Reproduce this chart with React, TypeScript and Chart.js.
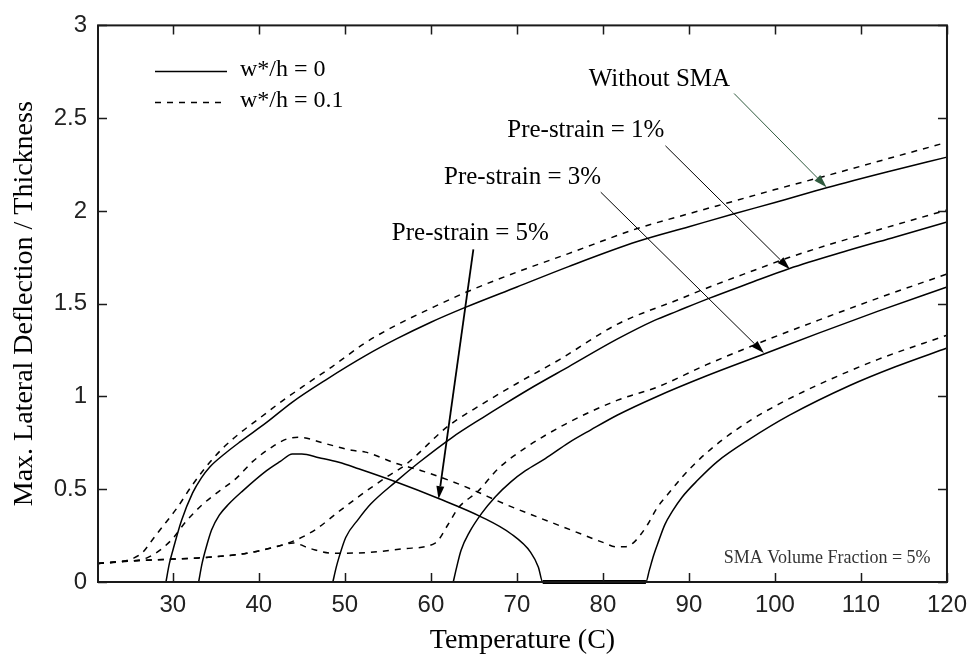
import React, { useEffect, useRef } from 'react';
import { Chart, registerables } from 'chart.js';

Chart.register(...registerables);

// ---------- axis ticks ----------
const xTicks = [30, 40, 50, 60, 70, 80, 90, 100, 110, 120];
const yTicks = [0, 0.5, 1, 1.5, 2, 2.5, 3];

// ---------- Without SMA ----------
const noSmaSolidT = [29.2, 29.6, 30.0, 31.0, 32.3, 33.3, 34.3, 36.0, 37.8, 40.9, 43.9, 47.8, 52.4, 56, 60, 64, 70, 76, 84, 90, 95.25, 100, 106, 113, 120];
const noSmaSolidW = [0, 0.10, 0.17, 0.33, 0.48, 0.56, 0.62, 0.69, 0.755, 0.86, 0.97, 1.09, 1.22, 1.31, 1.40, 1.48, 1.59, 1.70, 1.835, 1.915, 1.985, 2.045, 2.125, 2.21, 2.29];
const noSmaDashT = [21.3, 24, 25.5, 26.5, 27.5, 28.5, 30.5, 32.3, 34.3, 36, 38, 40, 42.7, 45.8, 48.5, 52.4, 56, 60, 64, 70, 76, 84, 90, 95, 100, 106, 113, 120];
const noSmaDashW = [0.10, 0.11, 0.13, 0.16, 0.22, 0.28, 0.40, 0.525, 0.645, 0.73, 0.81, 0.88, 0.975, 1.075, 1.16, 1.29, 1.385, 1.475, 1.56, 1.67, 1.77, 1.905, 1.985, 2.05, 2.115, 2.19, 2.28, 2.37];

// ---------- Pre-strain = 1% ----------
const pre1SolidT = [48.6, 49.0, 49.3, 50.1, 51.6, 53.0, 55.9, 58.5, 62.5, 66.0, 68.6, 72.0, 76, 81.7, 86, 88.65, 92.4, 97, 101.7, 108, 114, 120];
const pre1SolidW = [0, 0.08, 0.13, 0.24, 0.34, 0.42, 0.54, 0.64, 0.78, 0.885, 0.96, 1.055, 1.16, 1.31, 1.41, 1.46, 1.53, 1.61, 1.69, 1.78, 1.86, 1.94];
const pre1DashT = [21.3, 24, 28, 33, 38.6, 42, 44, 46.5, 49.3, 51.6, 53.1, 55, 57, 62, 66, 70, 75, 81.7, 88.65, 92.4, 97, 101.7, 110, 120];
const pre1DashW = [0.10, 0.11, 0.12, 0.13, 0.155, 0.19, 0.22, 0.28, 0.38, 0.46, 0.51, 0.57, 0.63, 0.84, 0.96, 1.07, 1.20, 1.39, 1.52, 1.59, 1.67, 1.75, 1.87, 2.005];

// ---------- Pre-strain = 3% ----------
const pre3SolidT = [62.6, 63.0, 63.5, 64.5, 65.9, 67.5, 69.3, 71, 73.3, 76, 78.6, 81.7, 86.3, 92, 98.8, 105, 112, 120];
const pre3SolidW = [0, 0.08, 0.17, 0.27, 0.37, 0.46, 0.54, 0.60, 0.665, 0.75, 0.82, 0.90, 1.00, 1.11, 1.23, 1.34, 1.46, 1.59];
const pre3DashT = [21.3, 24, 28, 33, 38.6, 42, 44, 46, 48.5, 53, 57, 60.5, 62, 63.2, 65.5, 67.8, 70.9, 75.6, 81.7, 86.3, 92, 98.8, 105, 112, 120];
const pre3DashW = [0.10, 0.11, 0.12, 0.13, 0.155, 0.19, 0.21, 0.18, 0.155, 0.16, 0.18, 0.21, 0.31, 0.40, 0.49, 0.61, 0.72, 0.85, 0.98, 1.05, 1.17, 1.30, 1.41, 1.53, 1.66];

// ---------- Pre-strain = 5% ----------
const pre5SolidT = [33.0, 33.4, 33.9, 34.5, 35.4, 36.5, 38.1, 40.9, 42.5, 43.9, 45, 47, 49.3, 51.6, 55.9, 60.9, 65.9, 69.3, 71.6, 72.5, 73.0, 85.0, 85.4, 85.9, 86.5, 87.2, 88.1, 89.2, 91.0, 93.3, 97.1, 101.7, 108.7, 114, 120];
const pre5SolidW = [0, 0.10, 0.19, 0.28, 0.36, 0.42, 0.49, 0.60, 0.65, 0.69, 0.69, 0.67, 0.645, 0.61, 0.54, 0.45, 0.35, 0.26, 0.16, 0.08, 0, 0, 0.064, 0.144, 0.223, 0.309, 0.383, 0.457, 0.548, 0.649, 0.771, 0.899, 1.059, 1.16, 1.261];
const pre5DashT = [21.3, 24, 27, 29.7, 31.6, 33.5, 35.4, 37.4, 39.3, 41.6, 43.2, 44.7, 47.8, 50.8, 52.4, 55.9, 58.9, 62, 64.7, 68.6, 72.4, 76.3, 80.2, 81.5, 82.6, 83.5, 84.3, 85.2, 86.3, 87.5, 89.3, 91.3, 94, 97.1, 100.5, 104.9, 112, 120];
const pre5DashW = [0.10, 0.11, 0.13, 0.22, 0.33, 0.42, 0.49, 0.56, 0.65, 0.73, 0.77, 0.78, 0.745, 0.71, 0.70, 0.64, 0.60, 0.55, 0.50, 0.42, 0.35, 0.28, 0.21, 0.19, 0.19, 0.21, 0.25, 0.31, 0.40, 0.47, 0.57, 0.665, 0.77, 0.87, 0.96, 1.06, 1.20, 1.33];

// ---------- annotations (data units) ----------
const noteTexts = ['Without SMA', 'Pre-strain = 1%', 'Pre-strain = 3%', 'Pre-strain = 5%'];
const noteX = [86.57, 78.01, 70.66, 64.59];
const noteY = [2.707, 2.436, 2.178, 1.880];
const arrowFromX = [95.25, 87.27, 79.75, 64.94];
const arrowFromY = [2.633, 2.351, 2.101, 1.793];
const arrowToX = [106.0, 101.73, 98.72, 60.89];
const arrowToY = [2.128, 1.686, 1.234, 0.447];
const arrowColors = ['#2f5a3e', '#000000', '#000000', '#000000'];
const arrowWidths = [1, 1, 1, 1.8];

const footnoteText = 'SMA Volume Fraction = 5%';
const footnoteX = 106.07;
const footnoteY = 0.128;

const legendLabels = ['w*/h = 0', 'w*/h = 0.1'];

const SERIF = "'Liberation Serif', 'Times New Roman', serif";
const SANS = "'Liberation Sans', Arial, sans-serif";
const DASH = [6, 6];

function series(label: string, xs: number[], ys: number[], dashed: boolean) {
  return {
    label,
    data: xs.map((x, i) => ({ x, y: ys[i] })),
    borderColor: '#000',
    backgroundColor: '#000',
    borderWidth: 1.5,
    borderDash: dashed ? DASH : [],
    pointRadius: 0,
    fill: false,
    cubicInterpolationMode: 'monotone' as const,
    clip: false as const,
    segment: {
      borderWidth: (c: any) => (!dashed && c.p0.parsed.y === 0 && c.p1.parsed.y === 0 ? 4 : 1.5),
    },
  };
}

const boxPlugin = {
  id: 'boxPlugin',
  afterDatasetsDraw(chart: any) {
    const { ctx, chartArea, scales } = chart;
    const { left, right, top, bottom } = chartArea;
    const x = scales.x;
    const y = scales.y;
    ctx.save();
    ctx.strokeStyle = '#1a1a1a';
    ctx.lineWidth = 2;
    ctx.setLineDash([]);
    ctx.strokeRect(left, top, right - left, bottom - top);
    const tl = 9;
    ctx.beginPath();
    xTicks.forEach((v) => {
      const px = Math.round(x.getPixelForValue(v)) + 0.5;
      ctx.moveTo(px, bottom);
      ctx.lineTo(px, bottom - tl);
      ctx.moveTo(px, top);
      ctx.lineTo(px, top + tl);
    });
    yTicks.forEach((v) => {
      const py = Math.round(y.getPixelForValue(v)) + 0.5;
      ctx.moveTo(left, py);
      ctx.lineTo(left + tl, py);
      ctx.moveTo(right, py);
      ctx.lineTo(right - tl, py);
    });
    ctx.lineWidth = 1.5;
    ctx.stroke();
    ctx.restore();
  },
};

const notePlugin = {
  id: 'notePlugin',
  afterDatasetsDraw(chart: any) {
    const { ctx, chartArea, scales } = chart;
    const x = scales.x;
    const y = scales.y;
    ctx.save();
    ctx.setLineDash([]);
    // arrows
    for (let i = 0; i < arrowFromX.length; i++) {
      const x1 = x.getPixelForValue(arrowFromX[i]);
      const y1 = y.getPixelForValue(arrowFromY[i]);
      const x2 = x.getPixelForValue(arrowToX[i]);
      const y2 = y.getPixelForValue(arrowToY[i]);
      const a = Math.atan2(y2 - y1, x2 - x1);
      const L = 13;
      const W = 4;
      const bx = x2 - L * Math.cos(a);
      const by = y2 - L * Math.sin(a);
      ctx.strokeStyle = arrowColors[i];
      ctx.fillStyle = arrowColors[i];
      ctx.lineWidth = arrowWidths[i];
      ctx.beginPath();
      ctx.moveTo(x1, y1);
      ctx.lineTo(bx, by);
      ctx.stroke();
      ctx.beginPath();
      ctx.moveTo(x2, y2);
      ctx.lineTo(bx - W * Math.sin(a), by + W * Math.cos(a));
      ctx.lineTo(bx + W * Math.sin(a), by - W * Math.cos(a));
      ctx.closePath();
      ctx.fill();
    }
    // texts
    ctx.fillStyle = '#000';
    ctx.textAlign = 'center';
    ctx.textBaseline = 'middle';
    ctx.font = `25px ${SERIF}`;
    noteTexts.forEach((t, i) => {
      ctx.fillText(t, x.getPixelForValue(noteX[i]), y.getPixelForValue(noteY[i]));
    });
    ctx.fillStyle = '#333';
    ctx.font = `18px ${SERIF}`;
    ctx.fillText(footnoteText, x.getPixelForValue(footnoteX), y.getPixelForValue(footnoteY));

    // legend
    const lx0 = chartArea.left + 57;
    const lx1 = chartArea.left + 129;
    const tx = chartArea.left + 142;
    const rows = [chartArea.top + 46, chartArea.top + 77];
    ctx.strokeStyle = '#000';
    ctx.lineWidth = 1.5;
    rows.forEach((ry, i) => {
      ctx.setLineDash(i === 0 ? [] : DASH);
      ctx.beginPath();
      ctx.moveTo(lx0, ry);
      ctx.lineTo(lx1, ry);
      ctx.stroke();
    });
    ctx.setLineDash([]);
    ctx.fillStyle = '#000';
    ctx.textAlign = 'left';
    ctx.font = `24px ${SERIF}`;
    legendLabels.forEach((t, i) => {
      ctx.fillText(t, tx, rows[i] - 2);
    });
    ctx.restore();
  },
};

export default function App() {
  const ref = useRef<HTMLCanvasElement>(null);
  useEffect(() => {
    const canvas = ref.current;
    if (!canvas) return;
    const chart = new Chart(canvas, {
      type: 'line',
      data: {
        datasets: [
          series('Without SMA, w*/h = 0', noSmaSolidT, noSmaSolidW, false),
          series('Without SMA, w*/h = 0.1', noSmaDashT, noSmaDashW, true),
          series('Pre-strain = 1%, w*/h = 0', pre1SolidT, pre1SolidW, false),
          series('Pre-strain = 1%, w*/h = 0.1', pre1DashT, pre1DashW, true),
          series('Pre-strain = 3%, w*/h = 0', pre3SolidT, pre3SolidW, false),
          series('Pre-strain = 3%, w*/h = 0.1', pre3DashT, pre3DashW, true),
          series('Pre-strain = 5%, w*/h = 0', pre5SolidT, pre5SolidW, false),
          series('Pre-strain = 5%, w*/h = 0.1', pre5DashT, pre5DashW, true),
        ] as any,
      },
      options: {
        animation: false,
        responsive: false,
        layout: { padding: { left: 0, top: 19, right: 25, bottom: 0 } },
        plugins: { legend: { display: false }, tooltip: { enabled: false } },
        scales: {
          x: {
            type: 'linear',
            min: 21.3,
            max: 120,
            grid: { display: false, drawTicks: false },
            border: { display: false },
            afterBuildTicks: (s: any) => {
              s.ticks = xTicks.map((v) => ({ value: v }));
            },
            afterFit: (s: any) => {
              s.height = 78;
            },
            ticks: {
              font: { family: SANS, size: 24 },
              color: '#222',
              padding: 9,
              maxRotation: 0,
              callback: (v: any) => String(v),
            },
            title: {
              display: true,
              text: 'Temperature (C)',
              font: { family: SERIF, size: 28 },
              color: '#000',
              padding: { top: 0, bottom: 3 },
            },
          },
          y: {
            type: 'linear',
            min: 0,
            max: 3,
            grid: { display: false, drawTicks: false },
            border: { display: false },
            afterBuildTicks: (s: any) => {
              s.ticks = yTicks.map((v) => ({ value: v }));
            },
            afterFit: (s: any) => {
              s.width = 98;
            },
            ticks: {
              font: { family: SANS, size: 24 },
              color: '#222',
              padding: 11,
              callback: (v: any) => String(v),
            },
            title: {
              display: true,
              text: 'Max. Lateral Deflection / Thickness',
              font: { family: SERIF, size: 28 },
              color: '#000',
              padding: { top: 8, bottom: 0 },
            },
          },
        },
      } as any,
      plugins: [boxPlugin, notePlugin],
    });
    return () => chart.destroy();
  }, []);
  return (
    <div style={{ position: 'absolute', left: 0, top: 0, width: 976, height: 660, background: '#fff' }}>
      <canvas ref={ref} width={976} height={660} style={{ display: 'block' }} />
    </div>
  );
}
